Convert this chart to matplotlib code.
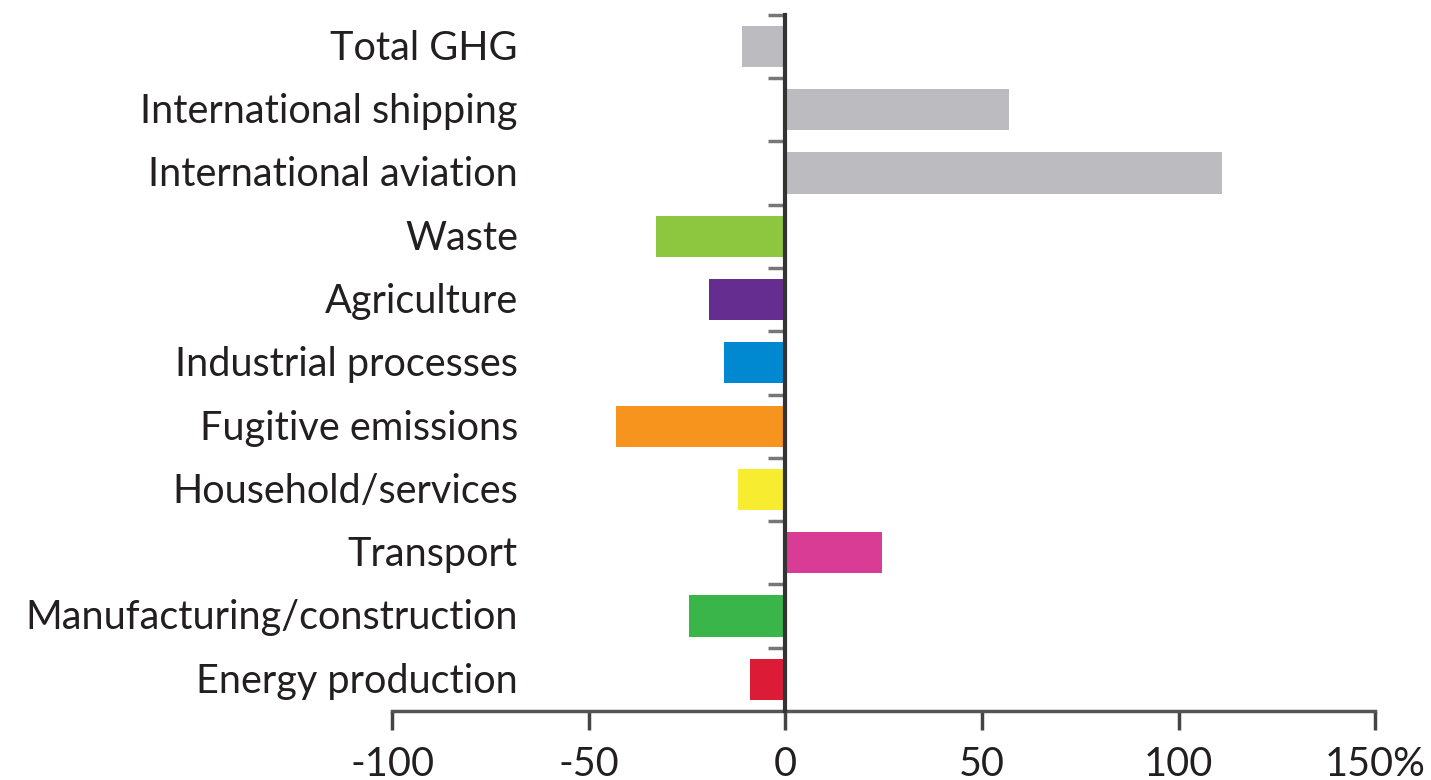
import matplotlib
matplotlib.use('Agg')
import matplotlib.pyplot as plt

# categories top to bottom, % change
categories = ['Total GHG', 'International shipping', 'International aviation', 'Waste',
              'Agriculture', 'Industrial processes', 'Fugitive emissions',
              'Household/services', 'Transport', 'Manufacturing/construction',
              'Energy production']
values = [-11, 57, 111, -33, -19.5, -15.5, -43, -12, 24.5, -24.5, -9]
colors = ['#bcbcc0', '#bcbcc0', '#bcbcc0', '#8dc63f', '#662d91', '#0089d0',
          '#f7941d', '#f8ec30', '#d93c94', '#39b54a', '#dc1c37']
xticks = [-100, -50, 0, 50, 100, 150]
xticklabels = ['-100', '-50', '0', '50', '100', '150%']

plt.rcParams['font.family'] = ['Lato', 'DejaVu Sans']
text_color = '#231f20'
fs = 28.5

fig = plt.figure(figsize=(14.31, 7.8), dpi=100)
ax = fig.add_axes([0.274, 0.0885, 0.687, 0.8925])

n = len(categories)
y = list(range(n))
ax.barh(y, values, height=0.65, color=colors, zorder=2)

ax.set_xlim(-100, 150)
ax.set_ylim(n - 0.5, -0.5)

# zero line with ticks between categories
ax.spines['left'].set_position(('data', 0))
ax.spines['left'].set_color('#333333')
ax.spines['left'].set_linewidth(3)
ax.spines['left'].set_zorder(3)
ax.set_yticks([i - 0.5 for i in range(n)])
ax.set_yticklabels([])
ax.tick_params(axis='y', direction='out', length=12, width=2.5, color='#777777')

ax.spines['right'].set_visible(False)
ax.spines['top'].set_visible(False)
ax.spines['bottom'].set_color('#555555')
ax.spines['bottom'].set_linewidth(2.5)

ax.set_xticks(xticks)
ax.set_xticklabels(xticklabels)
ax.tick_params(axis='x', direction='out', length=14, width=2.5, color='#444444',
               labelsize=fs, labelcolor=text_color, pad=11)

for yi, name in zip(y, categories):
    ax.text(-68, yi + 0.03, name, ha='right', va='center', fontsize=fs, color=text_color)

fig.savefig('out.png', dpi=100)
